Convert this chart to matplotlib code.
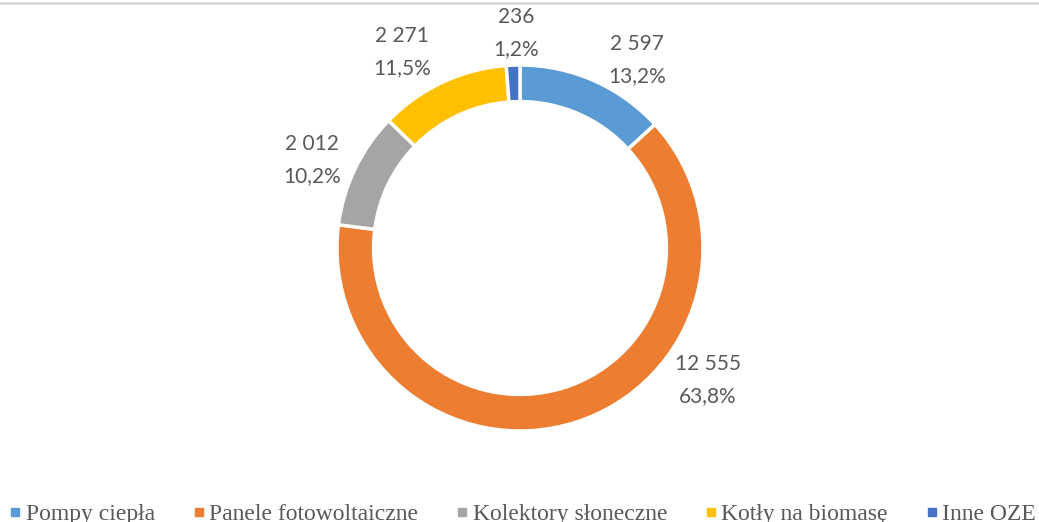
import matplotlib
matplotlib.use('Agg')
import matplotlib.pyplot as plt
from matplotlib.lines import Line2D

# data
categories = ['Pompy ciepła', 'Panele fotowoltaiczne', 'Kolektory słoneczne',
              'Kotły na biomasę', 'Inne OZE']
values = [2597, 12555, 2012, 2271, 236]
colors = ['#5B9BD5', '#ED7D31', '#A5A5A5', '#FFC000', '#4472C4']

# label positions (pixel coords, y from top), tuned to the reference
label_pos = [(637, 60), (708, 380), (312, 160), (402, 52), (516, 33)]

W, H = 1039, 522
fig = plt.figure(figsize=(W / 100, H / 100), dpi=100)
ax = fig.add_axes([0, 0, 1, 1])

cx, cy, r = 520, H - 248, 183
ax.pie(values, colors=colors, startangle=90, counterclock=False,
       center=(cx, cy), radius=r,
       wedgeprops=dict(width=r * 0.2, edgecolor='white', linewidth=2.5))
ax.set_xlim(0, W)
ax.set_ylim(0, H)
ax.set_aspect('auto')
ax.axis('off')

total = sum(values)
for v, (px, py) in zip(values, label_pos):
    txt = f"{v:,}".replace(',', ' ') + "\n" + f"{100 * v / total:.1f}%".replace('.', ',')
    ax.text(px, H - py, txt, ha='center', va='center', fontsize=15,
            family='Lato', color='#595959', linespacing=1.75)

# top border
fig.add_artist(Line2D([0, 1], [1 - 2.5 / H, 1 - 2.5 / H], color='#D9D9D9', lw=2))

handles = [Line2D([], [], marker='s', linestyle='', markersize=6, color=c) for c in colors]
fig.legend(handles, categories, loc='center', bbox_to_anchor=(0.503, 8 / H), ncol=5,
           frameon=False, prop={'family': 'Liberation Serif', 'size': 17},
           labelcolor='#595959', handlelength=0.5, handletextpad=0.2,
           columnspacing=1.6, borderaxespad=0)

fig.savefig('out.png', dpi=100)
